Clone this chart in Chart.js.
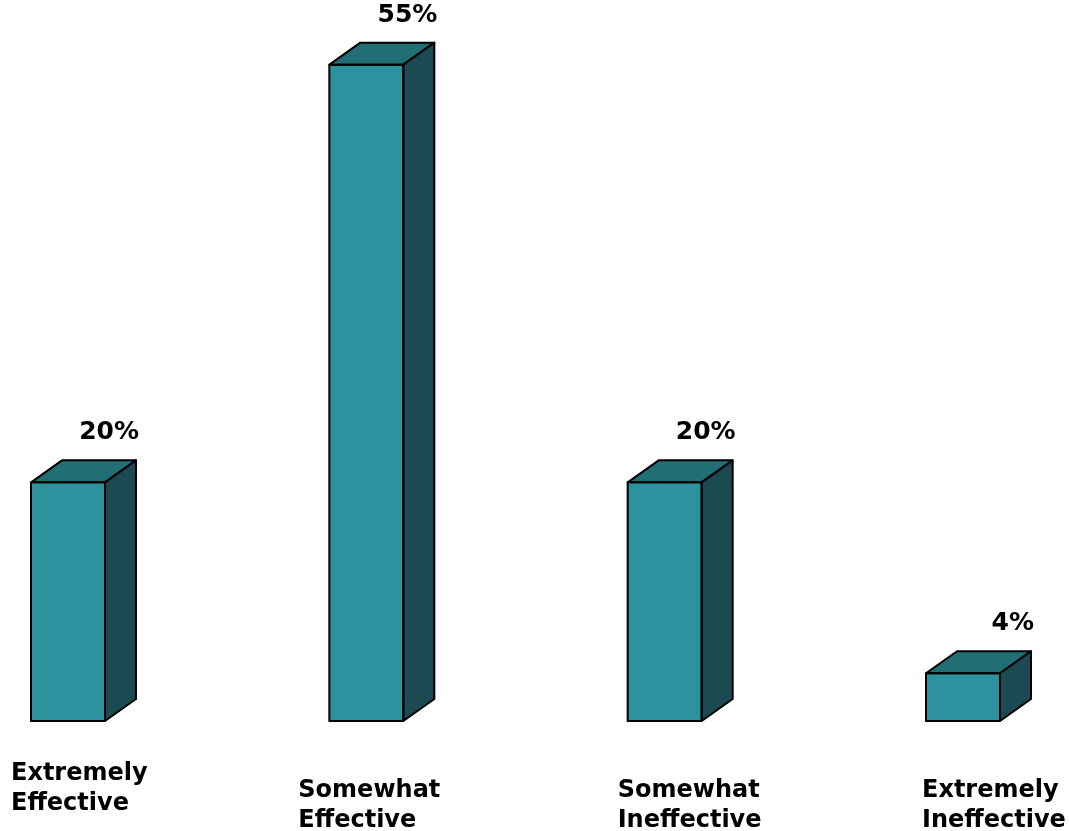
<!DOCTYPE html>
<html>
<head>
<meta charset="utf-8">
<script src="https://cdn.jsdelivr.net/npm/chart.js@4"></script>
<style>
    html, body { margin: 0; padding: 0; background: #ffffff; }
    #wrap { width: 1069px; height: 831px; position: relative; }
</style>
</head>
<body>
<div id="wrap"><canvas id="effectChart"></canvas></div>
<script>
// Données du graphique
const categories = [
    ['Extremely', 'Effective'],
    ['Somewhat', 'Effective'],
    ['Somewhat', 'Ineffective'],
    ['Extremely', 'Ineffective']
];
const percentValues = [20, 55, 20, 4];
const valueLabels = ['20%', '55%', '20%', '4%'];

// Couleurs des faces
const frontColor = 'rgb(43, 146, 158)';
const topColor = 'rgb(33, 110, 117)';
const sideColor = 'rgb(27, 74, 82)';

// Profondeur 3D
const depthX = 31;
const depthY = 22;

// Plugin pour dessiner les faces 3D, les valeurs et les catégories
const boxPlugin = {
    id: 'boxPlugin',
    afterDatasetsDraw(chart) {
        const ctx = chart.ctx;
        const meta = chart.getDatasetMeta(0);
        const labelNudge = [-20, -31, -10, -4];
        const labelTop = [780, 797, 797, 797];

        ctx.save();
        ctx.lineWidth = 2;
        ctx.lineJoin = 'round';
        ctx.strokeStyle = '#000000';

        meta.data.forEach((bar, i) => {
            const xL = bar.x - bar.width / 2;
            const xR = bar.x + bar.width / 2;
            const yT = bar.y;
            const yB = bar.base;

            // face du dessus
            ctx.beginPath();
            ctx.moveTo(xL, yT);
            ctx.lineTo(xL + depthX, yT - depthY);
            ctx.lineTo(xR + depthX, yT - depthY);
            ctx.lineTo(xR, yT);
            ctx.closePath();
            ctx.fillStyle = topColor;
            ctx.fill();
            ctx.stroke();

            // face de côté
            ctx.beginPath();
            ctx.moveTo(xR, yT);
            ctx.lineTo(xR + depthX, yT - depthY);
            ctx.lineTo(xR + depthX, yB - depthY);
            ctx.lineTo(xR, yB);
            ctx.closePath();
            ctx.fillStyle = sideColor;
            ctx.fill();
            ctx.stroke();

            // contour de la face avant
            ctx.strokeRect(xL, yT, xR - xL, yB - yT);

            // étiquette de valeur
            ctx.fillStyle = '#000000';
            ctx.font = 'bold 25px "DejaVu Sans"';
            ctx.textAlign = 'right';
            ctx.textBaseline = 'alphabetic';
            ctx.fillText(valueLabels[i], xR + depthX + 3, yT - depthY - 21);

            // étiquette de catégorie
            ctx.font = 'bold 24px "DejaVu Sans"';
            ctx.textAlign = 'left';
            const lines = chart.data.labels[i];
            lines.forEach((line, j) => {
                ctx.fillText(line, xL + labelNudge[i], labelTop[i] + j * 30);
            });
        });
        ctx.restore();
    }
};

new Chart(document.getElementById('effectChart'), {
    type: 'bar',
    data: {
        labels: categories,
        datasets: [{
            data: percentValues,
            backgroundColor: frontColor,
            borderWidth: 0,
            barThickness: 74,
            clip: false
        }]
    },
    options: {
        responsive: true,
        maintainAspectRatio: false,
        animation: false,
        layout: {
            padding: { left: 68, right: 106, top: 5, bottom: 110 }
        },
        plugins: {
            legend: { display: false },
            tooltip: { enabled: false }
        },
        scales: {
            x: {
                display: false,
                offset: false
            },
            y: {
                display: false,
                min: 0,
                max: 60
            }
        }
    },
    plugins: [boxPlugin]
});
</script>
</body>
</html>
